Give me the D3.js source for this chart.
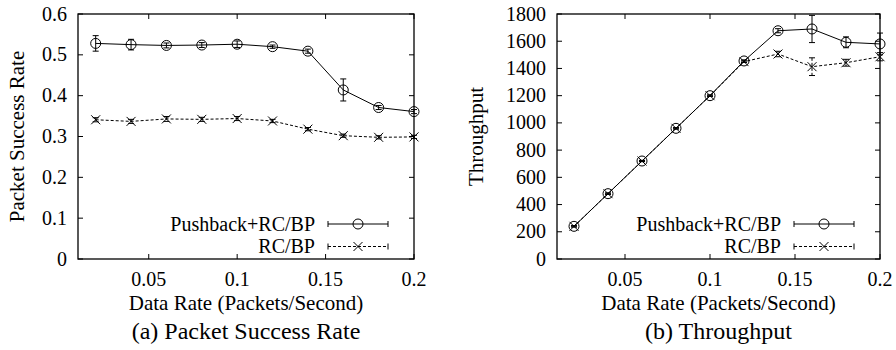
<!DOCTYPE html>
<html><head><meta charset="utf-8">
<script src="https://cdn.jsdelivr.net/npm/d3@7"></script>
<style>body{margin:0;background:#fff}svg{display:block}</style>
</head><body>
<svg id="c" width="896" height="350" font-family="'Liberation Serif', 'Times New Roman', Times, serif"></svg>
<script>
const rates = [0.02,0.04,0.06,0.08,0.1,0.12,0.14,0.16,0.18,0.2];
const xTicks = [0.05,0.1,0.15,0.2];
const seriesNames = ["Pushback+RC/BP","RC/BP"];
// Packet success rate
const psrPush = [0.528,0.525,0.523,0.524,0.526,0.520,0.509,0.414,0.371,0.361];
const psrPushErr = [0.019,0.013,0.006,0.006,0.008,0.004,0.005,0.027,0.005,0.005];
const psrRC = [0.341,0.337,0.343,0.342,0.344,0.338,0.318,0.302,0.298,0.299];
const psrRCErr = [0.005,0.005,0.006,0.005,0.005,0.004,0.004,0.004,0.004,0.004];
const psrTicks = [0,0.1,0.2,0.3,0.4,0.5,0.6];
// Throughput
const thrPush = [240,480,720,960,1200,1455,1677,1690,1592,1580];
const thrPushErr = [5,5,5,5,5,8,15,100,40,80];
const thrRC = [240,480,720,960,1200,1450,1506,1413,1442,1486];
const thrRCErr = [4,4,4,4,4,6,20,65,25,30];
const thrTicks = [0,200,400,600,800,1000,1200,1400,1600,1800];

const svg = d3.select("#c");
const FT = 20, FL = 21, FLeg = 20, FTitle = 24;

function panel(opt){
  const g = svg.append("g");
  const x = d3.scaleLinear().domain([0.01,0.2]).range([opt.l, opt.r]);
  const y = d3.scaleLinear().domain([opt.yTicks[0], opt.yTicks[opt.yTicks.length-1]]).range([opt.b, opt.t]);
  const tl = 5;
  g.append("rect").attr("x",opt.l).attr("y",opt.t).attr("width",opt.r-opt.l).attr("height",opt.b-opt.t)
    .attr("fill","none").attr("stroke","#000").attr("stroke-width",1.3);
  opt.yTicks.forEach(v=>{
    const yy = y(v);
    g.append("line").attr("x1",opt.l).attr("x2",opt.l+tl).attr("y1",yy).attr("y2",yy).attr("stroke","#000");
    g.append("line").attr("x1",opt.r).attr("x2",opt.r-tl).attr("y1",yy).attr("y2",yy).attr("stroke","#000");
    g.append("text").attr("x",opt.l-11).attr("y",yy).attr("dy","0.33em").attr("text-anchor","end")
      .attr("font-size",FT).text(opt.fmt(v));
  });
  xTicks.forEach(v=>{
    const xx = x(v);
    g.append("line").attr("x1",xx).attr("x2",xx).attr("y1",opt.b).attr("y2",opt.b-tl).attr("stroke","#000");
    g.append("line").attr("x1",xx).attr("x2",xx).attr("y1",opt.t).attr("y2",opt.t+tl).attr("stroke","#000");
    g.append("text").attr("x",xx).attr("y",opt.b+20).attr("dy","0.33em").attr("text-anchor","middle")
      .attr("font-size",FT).text(String(v));
  });
  g.append("text").attr("x",(opt.l+opt.r)/2).attr("y",303).attr("dy","0.33em").attr("text-anchor","middle")
    .attr("font-size",FL).text("Data Rate (Packets/Second)");
  g.append("text").attr("x",(opt.l+opt.r)/2).attr("y",331).attr("dy","0.33em").attr("text-anchor","middle")
    .attr("font-size",FTitle).text(opt.title);
  g.append("text").attr("transform",`translate(${opt.ylx},${(opt.t+opt.b)/2}) rotate(-90)`).attr("dy","0.33em")
    .attr("text-anchor","middle").attr("font-size",FL).text(opt.ylabel);

  const series = [
    {vals:opt.push, err:opt.pushErr, dash:null, marker:"circle"},
    {vals:opt.rc, err:opt.rcErr, dash:"3,2", marker:"x"}
  ];
  const line = d3.line().x((d,i)=>x(rates[i])).y(d=>y(d));
  series.forEach(s=>{
    g.append("path").datum(s.vals).attr("d",line).attr("fill","none").attr("stroke","#000")
      .attr("stroke-width",1).attr("stroke-dasharray",s.dash);
    s.vals.forEach((v,i)=>{
      const xx = x(rates[i]);
      const y1 = y(v+s.err[i]), y2 = y(v-s.err[i]);
      g.append("line").attr("x1",xx).attr("x2",xx).attr("y1",y1).attr("y2",y2).attr("stroke","#000").attr("stroke-dasharray",s.dash);
      [y1,y2].forEach(yy=>g.append("line").attr("x1",xx-3).attr("x2",xx+3).attr("y1",yy).attr("y2",yy).attr("stroke","#000"));
      drawMarker(g, s.marker, xx, y(v));
    });
  });
  const legRows = [224, 246.5];
  series.forEach((s,k)=>{
    const yy = legRows[k];
    g.append("text").attr("x",opt.legText).attr("y",yy).attr("dy","0.33em").attr("text-anchor","end")
      .attr("font-size",FLeg).text(seriesNames[k]);
    const x0 = opt.legText+13, x1 = x0+60;
    g.append("line").attr("x1",x0).attr("x2",x1).attr("y1",yy).attr("y2",yy).attr("stroke","#000").attr("stroke-dasharray",s.dash);
    [x0,x1].forEach(xx=>g.append("line").attr("x1",xx).attr("x2",xx).attr("y1",yy-3).attr("y2",yy+3).attr("stroke","#000"));
    drawMarker(g, s.marker, (x0+x1)/2, yy);
  });
}
function drawMarker(g, m, cx, cy){
  if(m==="circle"){
    g.append("circle").attr("cx",cx).attr("cy",cy).attr("r",5).attr("fill","none").attr("stroke","#000");
  } else {
    const r = 4.5;
    g.append("path").attr("d",`M${cx-r},${cy-r}L${cx+r},${cy+r}M${cx-r},${cy+r}L${cx+r},${cy-r}`)
      .attr("stroke","#000").attr("fill","none");
  }
}
panel({l:78,r:414,t:14,b:259,yTicks:psrTicks,fmt:v=>String(v),title:"(a) Packet Success Rate",ylabel:"Packet Success Rate",ylx:17,
  push:psrPush,pushErr:psrPushErr,rc:psrRC,rcErr:psrRCErr,legText:315});
panel({l:557,r:880,t:14,b:259,yTicks:thrTicks,fmt:v=>String(v),title:"(b) Throughput",ylabel:"Throughput",ylx:476,
  push:thrPush,pushErr:thrPushErr,rc:thrRC,rcErr:thrRCErr,legText:781});
</script>
</body></html>
